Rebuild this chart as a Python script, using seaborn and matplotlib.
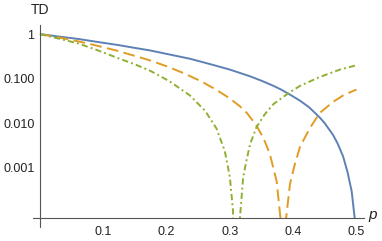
import numpy as np
import pandas as pd
import seaborn as sns
import matplotlib.pyplot as plt
from matplotlib.ticker import FixedLocator, NullFormatter
import matplotlib.transforms as mtransforms

# values (trace distance vs p, log scale)
blue_p = [0, 0.03, 0.06, 0.09, 0.123, 0.15, 0.174, 0.2, 0.237, 0.27, 0.3, 0.332, 0.35,
          0.368, 0.38, 0.395, 0.411, 0.425, 0.442, 0.45, 0.463, 0.47, 0.479, 0.486,
          0.4925, 0.4975, 0.5]
blue_td = [1, 0.88, 0.78, 0.67, 0.57, 0.49, 0.43, 0.36, 0.28, 0.21, 0.16, 0.113, 0.09,
           0.07, 0.058, 0.044, 0.032, 0.023, 0.0135, 0.01, 0.0055, 0.0036, 0.0018, 0.0008,
           0.0003, 0.00007, 0]

orange_p = [0, 0.03, 0.06, 0.09, 0.123, 0.158, 0.174, 0.2, 0.226, 0.255, 0.279, 0.3,
            0.316, 0.327, 0.342, 0.353, 0.363, 0.374, 0.380, 0.384, 0.389, 0.395, 0.402,
            0.411, 0.427, 0.442, 0.463, 0.48, 0.5]
orange_td = [1, 0.84, 0.69, 0.55, 0.42, 0.30, 0.257, 0.19, 0.135, 0.087, 0.056, 0.036,
             0.024, 0.017, 0.0089, 0.0047, 0.0021, 0.0005, 0.000075, 0, 0.000075, 0.00043,
             0.0011, 0.003, 0.008, 0.017, 0.030, 0.043, 0.057]

green_p = [0, 0.03, 0.06, 0.09, 0.123, 0.15, 0.174, 0.205, 0.237, 0.261, 0.279, 0.292,
           0.300, 0.305, 0.310, 0.316, 0.321, 0.326, 0.332, 0.342, 0.355, 0.369, 0.395,
           0.411, 0.442, 0.474, 0.5]
green_td = [1, 0.79, 0.62, 0.44, 0.29, 0.21, 0.151, 0.087, 0.042, 0.019, 0.0076, 0.0024,
            0.00063, 0.00011, 0, 0.000075, 0.0006, 0.0014, 0.0034, 0.0081, 0.0158, 0.027,
            0.050, 0.069, 0.109, 0.16, 0.20]

y_ticks = [1e-4, 1e-3, 1e-2, 1e-1, 1]
y_labels = ['', '0.001', '0.010', '0.100', '1']
x_ticks = [0.1, 0.2, 0.3, 0.4, 0.5]
x_labels = ['0.1', '0.2', '0.3', '0.4', '0.5']

sns.set_style('white')
plt.rcParams['font.family'] = ['Liberation Sans', 'DejaVu Sans']

W, H = 382, 241
fig = plt.figure(figsize=(W / 100, H / 100), dpi=100)
ax = fig.add_axes([33 / W, (H - 218) / H, (364 - 33) / W, (218 - 25) / H])

axis_col = '#555555'
series = [
    (blue_p, blue_td, '#5E81B5', None),
    (orange_p, orange_td, '#E19C24', (6, 2.8)),
    (green_p, green_td, '#8FB032', (3.2, 1.6, 1.0, 1.6)),
]
for p, td, col, dash in series:
    df = pd.DataFrame({'p': p, 'TD': np.clip(td, 1e-8, None)})
    sns.lineplot(data=df, x='p', y='TD', color=col, linewidth=1.4, sort=False, ax=ax)
    line = ax.lines[-1]
    if dash is not None:
        line.set_dashes(dash)
    line.set_solid_capstyle('butt')
    line.set_solid_joinstyle('round')

ax.set_yscale('log')
ax.set_xlim(-0.011, 0.512)
ax.set_ylim(7.5e-5, 1.6)

for s in ['top', 'right']:
    ax.spines[s].set_visible(False)
ax.spines['left'].set_position(('data', 0))
for s in ['left', 'bottom']:
    ax.spines[s].set_color(axis_col)
    ax.spines[s].set_linewidth(0.8)

# small overhang of the vertical axis below the horizontal one
trans = mtransforms.blended_transform_factory(ax.transData, ax.transAxes)
ax.plot([0, 0], [0, -0.047], transform=trans, color=axis_col, lw=0.8, clip_on=False)

ax.yaxis.set_major_locator(FixedLocator(y_ticks))
ax.set_yticklabels(y_labels)
minor_y = [m * 10.0 ** e for e in range(-5, 1) for m in range(2, 10)]
ax.yaxis.set_minor_locator(FixedLocator(minor_y))
ax.yaxis.set_minor_formatter(NullFormatter())

ax.set_xticks(x_ticks)
ax.set_xticklabels(x_labels)
ax.xaxis.set_minor_locator(FixedLocator(np.arange(0.02, 0.51, 0.02)))

ax.tick_params(which='both', direction='in', color=axis_col, labelsize=9, labelcolor='#222222')
ax.tick_params(which='major', length=3.2, width=0.8)
ax.tick_params(which='minor', length=1.8, width=0.6)
ax.tick_params(axis='x', which='major', pad=6)
ax.tick_params(axis='y', which='major', pad=4)

ax.set_xlabel('')
ax.set_ylabel('')
ax.grid(False)

fig.text(40 / W, 1 - 10 / H, 'TD', ha='center', va='center', fontsize=10, color='#222222')
fig.text(373 / W, 1 - 215 / H, 'p', ha='center', va='center', fontsize=11,
         style='italic', color='#222222')

fig.savefig('out.png', dpi=100)
